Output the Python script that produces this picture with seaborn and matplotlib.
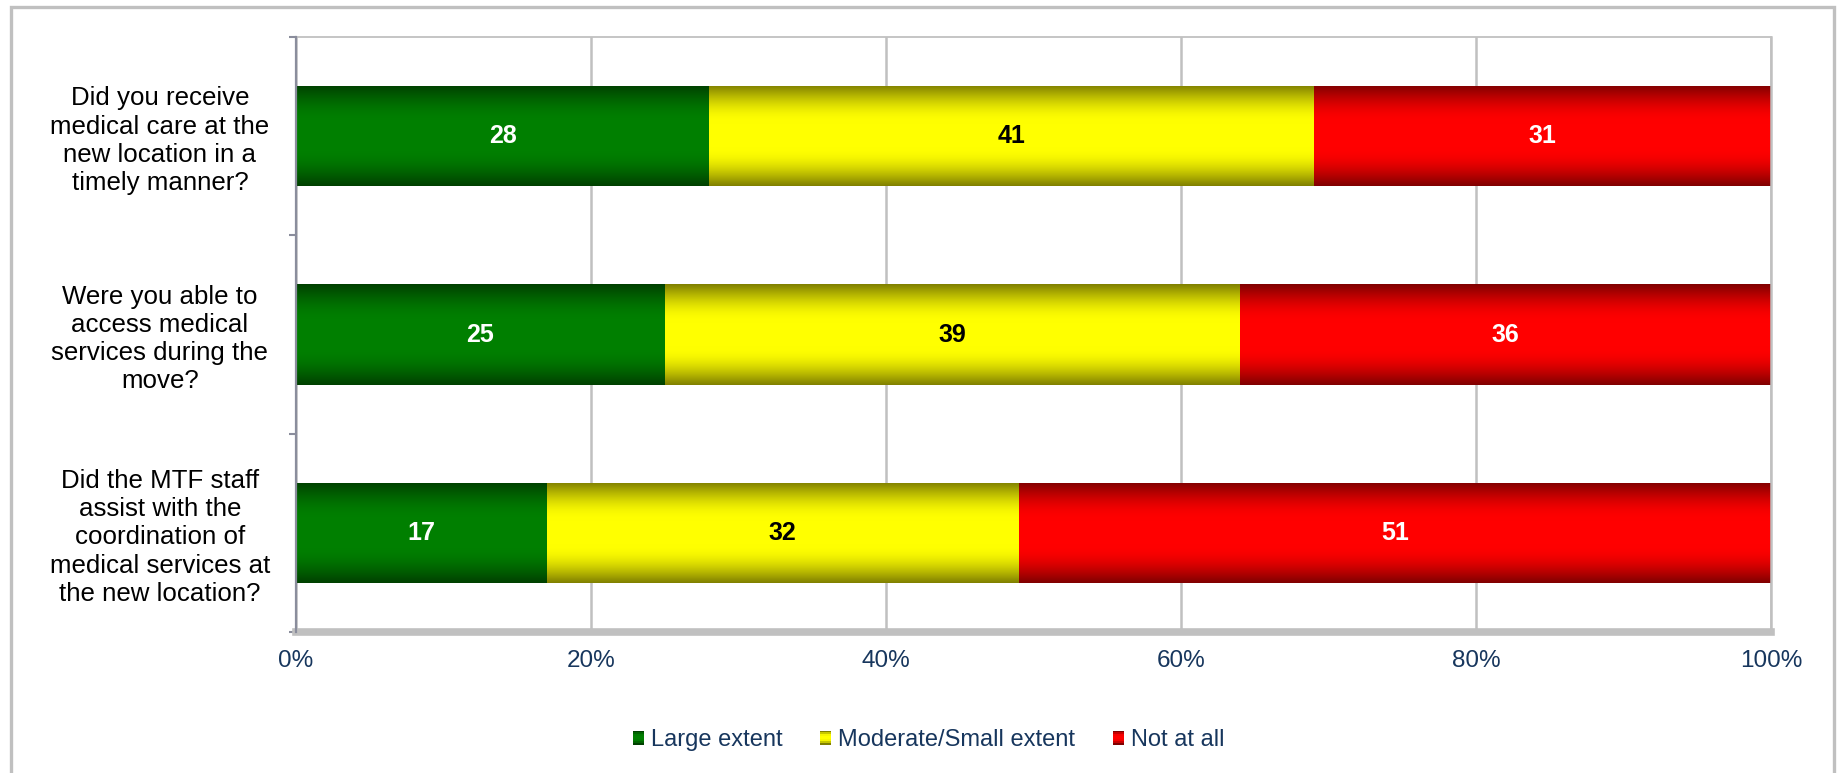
import numpy as np
import pandas as pd
import matplotlib
matplotlib.use("Agg")
import matplotlib.pyplot as plt
import seaborn as sns
from matplotlib.patches import Rectangle
from matplotlib.legend_handler import HandlerBase
from matplotlib.ticker import FixedLocator

# ---- data -------------------------------------------------------------
questions = [
    "Did you receive\nmedical care at the\nnew location in a\ntimely manner?",
    "Were you able to\naccess medical\nservices during the\nmove?",
    "Did the MTF staff\nassist with the\ncoordination of\nmedical services at\nthe new location?",
]
large_extent = [28, 25, 17]
moderate_small = [41, 39, 32]
not_at_all = [31, 36, 51]
series_names = ["Large extent", "Moderate/Small extent", "Not at all"]
tick_values = [0, 20, 40, 60, 80, 100]
tick_labels = ["0%", "20%", "40%", "60%", "80%", "100%"]

# ---- styling ----------------------------------------------------------
bright = {"Large extent": (0.0, 0.50, 0.0),
          "Moderate/Small extent": (1.0, 1.0, 0.0),
          "Not at all": (1.0, 0.0, 0.0)}
value_color = {"Large extent": "white",
               "Moderate/Small extent": "black",
               "Not at all": "white"}
GRID = "#C0C0C0"
AXIS_DARK = "#8A8D9C"
NAVY = "#17365D"

sns.set_theme(style="white")
plt.rcParams["font.family"] = ["Liberation Sans", "DejaVu Sans"]

DPI = 100
fig = plt.figure(figsize=(18.39, 7.73), dpi=DPI)
ax = fig.add_axes([296 / 1839, 1 - 632 / 773, (1771 - 296) / 1839, (632 - 37) / 773])

df = pd.DataFrame({"question": questions,
                   "Large extent": large_extent,
                   "Moderate/Small extent": moderate_small,
                   "Not at all": not_at_all})
segments = df[series_names]
right_edges = segments.cumsum(axis=1)
left_edges = right_edges - segments


def gradient_profile(n=200):
    t = np.linspace(0, 1, n)
    d = 1 - np.abs(2 * t - 1)            # 0 at the bar edges, 1 in the middle
    return 0.5 + 0.5 * np.sin(np.pi / 2 * np.clip(d / 0.75, 0, 1))


profile = gradient_profile()

# stacked bars: longest cumulative series first, shorter ones drawn on top
BAR_W = 0.506
for layer, name in enumerate(reversed(series_names)):
    n_before = len(ax.patches)
    sns.barplot(x=right_edges[name], y=df["question"], orient="h",
                color=bright[name], saturation=1, width=BAR_W, ax=ax,
                linewidth=0)
    z = 2 + layer * 0.2
    img = np.array(bright[name])[None, None, :] * profile[:, None, None]
    for patch in ax.patches[n_before:]:
        patch.set_zorder(z)
        bb = patch.get_bbox()
        im = ax.imshow(img, extent=[bb.x0, bb.x1, bb.y0, bb.y1],
                       aspect="auto", interpolation="bilinear", zorder=z + 0.1)
        im.set_clip_path(patch)

# value labels in the middle of each segment
for i in range(len(questions)):
    for name in series_names:
        val = segments[name].iloc[i]
        ax.text(left_edges[name].iloc[i] + val / 2, i, f"{val}",
                ha="center", va="center", fontsize=18, fontweight="bold",
                color=value_color[name], zorder=5)

ax.set_xlim(0, 100)
ax.set_ylim(2.5, -0.5)
ax.set_xlabel("")
ax.set_ylabel("")

# x axis
ax.set_xticks(tick_values)
ax.set_xticklabels(tick_labels)
ax.tick_params(axis="x", direction="out", length=4, width=5, color=GRID,
               pad=9, labelsize=17.5, labelcolor=NAVY)
ax.grid(axis="x", color=GRID, linewidth=1.8)
ax.grid(axis="y", visible=False)
ax.set_axisbelow(True)

# y axis: centered multi-line labels, ticks between categories
ax.set_yticks(range(len(questions)))
ax.set_yticklabels(questions)
ax.tick_params(axis="y", which="major", length=0, pad=98, labelsize=18.6,
               labelcolor="black")
for lab in ax.get_yticklabels():
    lab.set_horizontalalignment("center")
    lab.set_multialignment("center")
    lab.set_linespacing(1.22)
ax.yaxis.set_minor_locator(FixedLocator([-0.5, 0.5, 1.5, 2.5]))
ax.tick_params(axis="y", which="minor", left=True, direction="out",
               length=5, width=1.5, color=AXIS_DARK)

# spines
ax.spines["left"].set_color(AXIS_DARK)
ax.spines["left"].set_linewidth(1.6)
ax.spines["bottom"].set_color(GRID)
ax.spines["bottom"].set_linewidth(5.5)
ax.spines["top"].set_color(GRID)
ax.spines["top"].set_linewidth(1.3)
ax.spines["right"].set_color(GRID)
ax.spines["right"].set_linewidth(1.8)
for s in ax.spines.values():
    s.set_visible(True)
ax.spines["left"].set_zorder(6)


# legend with small shaded squares
class ShadedSquare(HandlerBase):
    def create_artists(self, legend, orig_handle, xdescent, ydescent,
                       width, height, fontsize, trans):
        base = np.array(orig_handle.get_facecolor()[:3])
        n = 8
        prof = gradient_profile(n)
        arts = []
        for k in range(n):
            r = Rectangle((-xdescent, -ydescent + height * k / n), width,
                          height / n, facecolor=tuple(base * prof[k]),
                          edgecolor="none", transform=trans)
            arts.append(r)
        return arts


handles = [Rectangle((0, 0), 1, 1, facecolor=bright[n]) for n in series_names]
fig.legend(handles, series_names, loc="center", ncol=3,
           bbox_to_anchor=(0.505, 1 - 740 / 773), frameon=False,
           fontsize=17, labelcolor=NAVY, handlelength=0.45,
           handleheight=0.55, handletextpad=0.3, columnspacing=1.6,
           handler_map={Rectangle: ShadedSquare()})

# outer chart border
fig.patches.append(Rectangle((10.5 / 1839, -0.05), (1834 - 10.5) / 1839,
                             1.05 - 7.5 / 773, transform=fig.transFigure,
                             fill=False, edgecolor=GRID, linewidth=2.4))

fig.savefig("out.png", dpi=DPI)
